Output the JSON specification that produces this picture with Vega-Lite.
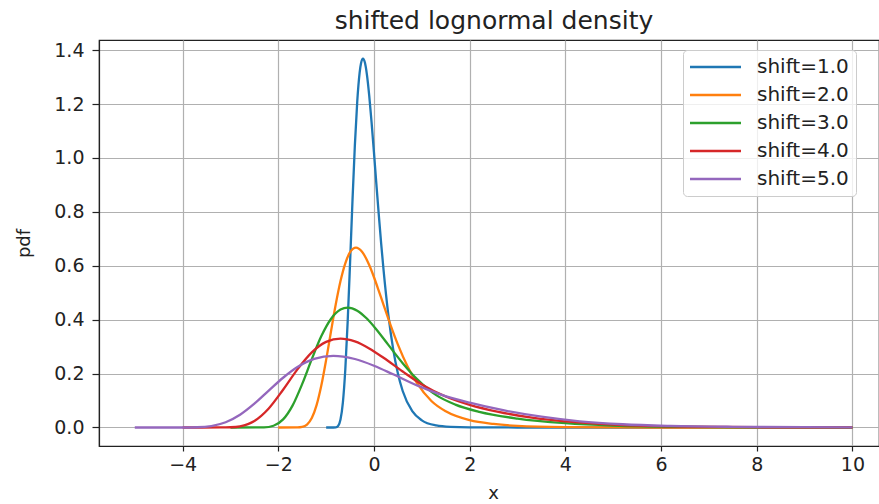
{
  "$schema": "https://vega.github.io/schema/vega-lite/v6.json",
  "width": 780,
  "height": 406,
  "autosize": {"type": "none"},
  "padding": {"left": 99, "top": 40, "right": 0, "bottom": 58},
  "background": "white",
  "title": {"text": "shifted lognormal density", "font": "DejaVu Sans", "fontSize": 25, "fontWeight": "normal", "color": "#222222", "offset": 6, "dx": 5, "anchor": "middle"},
  "config": {
    "view": {"stroke": "#222222", "strokeWidth": 1.2},
    "axis": {"labelFont": "DejaVu Sans", "titleFont": "DejaVu Sans", "labelFontSize": 19, "titleFontSize": 18, "titleFontWeight": "normal", "labelColor": "#222222", "titleColor": "#222222", "gridColor": "#b0b0b0", "gridWidth": 1.2, "tickColor": "#222222", "domainColor": "#222222", "domainWidth": 1.2, "tickWidth": 1.2}
  },
  "data": {"values": [
    {"series": "shift=1.0", "x": -1, "pdf": 0},
    {"series": "shift=1.0", "x": -0.85, "pdf": 0},
    {"series": "shift=1.0", "x": -0.8, "pdf": 0.0005},
    {"series": "shift=1.0", "x": -0.75, "pdf": 0.0058},
    {"series": "shift=1.0", "x": -0.7, "pdf": 0.0293},
    {"series": "shift=1.0", "x": -0.65, "pdf": 0.0931},
    {"series": "shift=1.0", "x": -0.6, "pdf": 0.2141},
    {"series": "shift=1.0", "x": -0.55, "pdf": 0.3931},
    {"series": "shift=1.0", "x": -0.5, "pdf": 0.6114},
    {"series": "shift=1.0", "x": -0.45, "pdf": 0.8393},
    {"series": "shift=1.0", "x": -0.4, "pdf": 1.0462},
    {"series": "shift=1.0", "x": -0.35, "pdf": 1.2094},
    {"series": "shift=1.0", "x": -0.3, "pdf": 1.3164},
    {"series": "shift=1.0", "x": -0.27, "pdf": 1.3523},
    {"series": "shift=1.0", "x": -0.23, "pdf": 1.369},
    {"series": "shift=1.0", "x": -0.19, "pdf": 1.354},
    {"series": "shift=1.0", "x": -0.15, "pdf": 1.3124},
    {"series": "shift=1.0", "x": -0.1, "pdf": 1.2323},
    {"series": "shift=1.0", "x": -0.05, "pdf": 1.1312},
    {"series": "shift=1.0", "x": 0, "pdf": 1.0188},
    {"series": "shift=1.0", "x": 0.05, "pdf": 0.903},
    {"series": "shift=1.0", "x": 0.1, "pdf": 0.7897},
    {"series": "shift=1.0", "x": 0.15, "pdf": 0.6825},
    {"series": "shift=1.0", "x": 0.2, "pdf": 0.5843},
    {"series": "shift=1.0", "x": 0.3, "pdf": 0.4179},
    {"series": "shift=1.0", "x": 0.4, "pdf": 0.2917},
    {"series": "shift=1.0", "x": 0.5, "pdf": 0.2},
    {"series": "shift=1.0", "x": 0.6, "pdf": 0.1353},
    {"series": "shift=1.0", "x": 0.8, "pdf": 0.0605},
    {"series": "shift=1.0", "x": 1.0, "pdf": 0.0266},
    {"series": "shift=1.0", "x": 1.3, "pdf": 0.0077},
    {"series": "shift=1.0", "x": 1.6, "pdf": 0.0023},
    {"series": "shift=1.0", "x": 2.0, "pdf": 0.0005},
    {"series": "shift=1.0", "x": 3, "pdf": 0},
    {"series": "shift=1.0", "x": 10, "pdf": 0},

    {"series": "shift=2.0", "x": -2, "pdf": 0},
    {"series": "shift=2.0", "x": -1.6, "pdf": 0.0002},
    {"series": "shift=2.0", "x": -1.5, "pdf": 0.0021},
    {"series": "shift=2.0", "x": -1.4, "pdf": 0.0108},
    {"series": "shift=2.0", "x": -1.3, "pdf": 0.035},
    {"series": "shift=2.0", "x": -1.2, "pdf": 0.0828},
    {"series": "shift=2.0", "x": -1.1, "pdf": 0.1565},
    {"series": "shift=2.0", "x": -1.0, "pdf": 0.2509},
    {"series": "shift=2.0", "x": -0.9, "pdf": 0.355},
    {"series": "shift=2.0", "x": -0.8, "pdf": 0.4561},
    {"series": "shift=2.0", "x": -0.7, "pdf": 0.5433},
    {"series": "shift=2.0", "x": -0.6, "pdf": 0.6093},
    {"series": "shift=2.0", "x": -0.5, "pdf": 0.6504},
    {"series": "shift=2.0", "x": -0.376, "pdf": 0.6677},
    {"series": "shift=2.0", "x": -0.25, "pdf": 0.6523},
    {"series": "shift=2.0", "x": -0.1, "pdf": 0.6026},
    {"series": "shift=2.0", "x": 0, "pdf": 0.5574},
    {"series": "shift=2.0", "x": 0.1, "pdf": 0.5071},
    {"series": "shift=2.0", "x": 0.2, "pdf": 0.4549},
    {"series": "shift=2.0", "x": 0.35, "pdf": 0.3782},
    {"series": "shift=2.0", "x": 0.5, "pdf": 0.3077},
    {"series": "shift=2.0", "x": 0.7, "pdf": 0.2276},
    {"series": "shift=2.0", "x": 0.9, "pdf": 0.1647},
    {"series": "shift=2.0", "x": 1.2, "pdf": 0.0983},
    {"series": "shift=2.0", "x": 1.5, "pdf": 0.06},
    {"series": "shift=2.0", "x": 2.0, "pdf": 0.027},
    {"series": "shift=2.0", "x": 2.5, "pdf": 0.013},
    {"series": "shift=2.0", "x": 3.0, "pdf": 0.006},
    {"series": "shift=2.0", "x": 4.0, "pdf": 0.0015},
    {"series": "shift=2.0", "x": 5.0, "pdf": 0.0004},
    {"series": "shift=2.0", "x": 6, "pdf": 0},
    {"series": "shift=2.0", "x": 10, "pdf": 0},

    {"series": "shift=3.0", "x": -3, "pdf": 0},
    {"series": "shift=3.0", "x": -2.3, "pdf": 0.0006},
    {"series": "shift=3.0", "x": -2.1, "pdf": 0.0065},
    {"series": "shift=3.0", "x": -1.9, "pdf": 0.03},
    {"series": "shift=3.0", "x": -1.7, "pdf": 0.0822},
    {"series": "shift=3.0", "x": -1.5, "pdf": 0.1617},
    {"series": "shift=3.0", "x": -1.3, "pdf": 0.2537},
    {"series": "shift=3.0", "x": -1.1, "pdf": 0.3391},
    {"series": "shift=3.0", "x": -0.9, "pdf": 0.4026},
    {"series": "shift=3.0", "x": -0.7, "pdf": 0.4375},
    {"series": "shift=3.0", "x": -0.55, "pdf": 0.445},
    {"series": "shift=3.0", "x": -0.35, "pdf": 0.4336},
    {"series": "shift=3.0", "x": -0.15, "pdf": 0.4042},
    {"series": "shift=3.0", "x": 0.05, "pdf": 0.3637},
    {"series": "shift=3.0", "x": 0.3, "pdf": 0.3065},
    {"series": "shift=3.0", "x": 0.6, "pdf": 0.2387},
    {"series": "shift=3.0", "x": 0.9, "pdf": 0.1793},
    {"series": "shift=3.0", "x": 1.3, "pdf": 0.12},
    {"series": "shift=3.0", "x": 1.7, "pdf": 0.085},
    {"series": "shift=3.0", "x": 2.2, "pdf": 0.058},
    {"series": "shift=3.0", "x": 3.0, "pdf": 0.033},
    {"series": "shift=3.0", "x": 4.0, "pdf": 0.016},
    {"series": "shift=3.0", "x": 5.0, "pdf": 0.007},
    {"series": "shift=3.0", "x": 6.5, "pdf": 0.002},
    {"series": "shift=3.0", "x": 8, "pdf": 0.0006},
    {"series": "shift=3.0", "x": 10, "pdf": 0},

    {"series": "shift=4.0", "x": -4, "pdf": 0},
    {"series": "shift=4.0", "x": -3.2, "pdf": 0.0001},
    {"series": "shift=4.0", "x": -3.0, "pdf": 0.0008},
    {"series": "shift=4.0", "x": -2.8, "pdf": 0.0045},
    {"series": "shift=4.0", "x": -2.5, "pdf": 0.0243},
    {"series": "shift=4.0", "x": -2.2, "pdf": 0.0706},
    {"series": "shift=4.0", "x": -1.9, "pdf": 0.14},
    {"series": "shift=4.0", "x": -1.6, "pdf": 0.2156},
    {"series": "shift=4.0", "x": -1.3, "pdf": 0.2787},
    {"series": "shift=4.0", "x": -1.0, "pdf": 0.3176},
    {"series": "shift=4.0", "x": -0.7, "pdf": 0.33},
    {"series": "shift=4.0", "x": -0.4, "pdf": 0.3196},
    {"series": "shift=4.0", "x": -0.1, "pdf": 0.2935},
    {"series": "shift=4.0", "x": 0.2, "pdf": 0.2585},
    {"series": "shift=4.0", "x": 0.6, "pdf": 0.2077},
    {"series": "shift=4.0", "x": 1.0, "pdf": 0.1599},
    {"series": "shift=4.0", "x": 1.5, "pdf": 0.115},
    {"series": "shift=4.0", "x": 2.0, "pdf": 0.084},
    {"series": "shift=4.0", "x": 2.6, "pdf": 0.058},
    {"series": "shift=4.0", "x": 3.3, "pdf": 0.037},
    {"series": "shift=4.0", "x": 4.2, "pdf": 0.02},
    {"series": "shift=4.0", "x": 5.2, "pdf": 0.009},
    {"series": "shift=4.0", "x": 6.5, "pdf": 0.0035},
    {"series": "shift=4.0", "x": 8, "pdf": 0.001},
    {"series": "shift=4.0", "x": 10, "pdf": 0.0002},

    {"series": "shift=5.0", "x": -5, "pdf": 0},
    {"series": "shift=5.0", "x": -4, "pdf": 0},
    {"series": "shift=5.0", "x": -3.7, "pdf": 0.0008},
    {"series": "shift=5.0", "x": -3.4, "pdf": 0.0054},
    {"series": "shift=5.0", "x": -3.1, "pdf": 0.0193},
    {"series": "shift=5.0", "x": -2.8, "pdf": 0.0471},
    {"series": "shift=5.0", "x": -2.5, "pdf": 0.0882},
    {"series": "shift=5.0", "x": -2.2, "pdf": 0.1367},
    {"series": "shift=5.0", "x": -1.9, "pdf": 0.1845},
    {"series": "shift=5.0", "x": -1.6, "pdf": 0.2242},
    {"series": "shift=5.0", "x": -1.25, "pdf": 0.2545},
    {"series": "shift=5.0", "x": -0.85, "pdf": 0.266},
    {"series": "shift=5.0", "x": -0.4, "pdf": 0.2541},
    {"series": "shift=5.0", "x": 0, "pdf": 0.2291},
    {"series": "shift=5.0", "x": 0.4, "pdf": 0.1973},
    {"series": "shift=5.0", "x": 0.9, "pdf": 0.1562},
    {"series": "shift=5.0", "x": 1.4, "pdf": 0.122},
    {"series": "shift=5.0", "x": 2.0, "pdf": 0.092},
    {"series": "shift=5.0", "x": 2.7, "pdf": 0.064},
    {"series": "shift=5.0", "x": 3.5, "pdf": 0.04},
    {"series": "shift=5.0", "x": 4.3, "pdf": 0.023},
    {"series": "shift=5.0", "x": 5.2, "pdf": 0.012},
    {"series": "shift=5.0", "x": 6.2, "pdf": 0.006},
    {"series": "shift=5.0", "x": 7.5, "pdf": 0.0025},
    {"series": "shift=5.0", "x": 9, "pdf": 0.001},
    {"series": "shift=5.0", "x": 10, "pdf": 0.0005}
  ]},
  "mark": {"type": "line", "interpolate": "monotone", "strokeWidth": 2.3},
  "encoding": {
    "x": {
      "field": "x", "type": "quantitative",
      "scale": {"domain": [-5.748, 10.556], "nice": false, "zero": false},
      "axis": {"values": [-4, -2, 0, 2, 4, 6, 8, 10], "format": "d", "title": "x", "tickSize": 5, "labelPadding": 4, "titlePadding": 10, "titleX": 394, "labelFlush": false}
    },
    "y": {
      "field": "pdf", "type": "quantitative",
      "scale": {"domain": [-0.0687, 1.4378], "nice": false, "zero": false},
      "axis": {"values": [0, 0.2, 0.4, 0.6, 0.8, 1.0, 1.2, 1.4], "format": ".1f", "title": "pdf", "tickSize": 7, "labelPadding": 8, "titlePadding": 20}
    },
    "color": {
      "field": "series", "type": "nominal",
      "scale": {"domain": ["shift=1.0", "shift=2.0", "shift=3.0", "shift=4.0", "shift=5.0"], "range": ["#1f77b4", "#ff7f0e", "#2ca02c", "#d62728", "#9467bd"]},
      "legend": {"orient": "none", "legendX": 584, "legendY": 10, "title": null, "symbolType": "M-2,0L8.2,0", "symbolSize": 100, "symbolStrokeWidth": 2.5, "labelFont": "DejaVu Sans", "labelFontSize": 20, "labelColor": "#222222", "labelOffset": 47, "rowPadding": 8, "padding": 7, "strokeColor": "#cccccc", "fillColor": "rgba(255,255,255,0.8)", "cornerRadius": 4}
    }
  }
}
